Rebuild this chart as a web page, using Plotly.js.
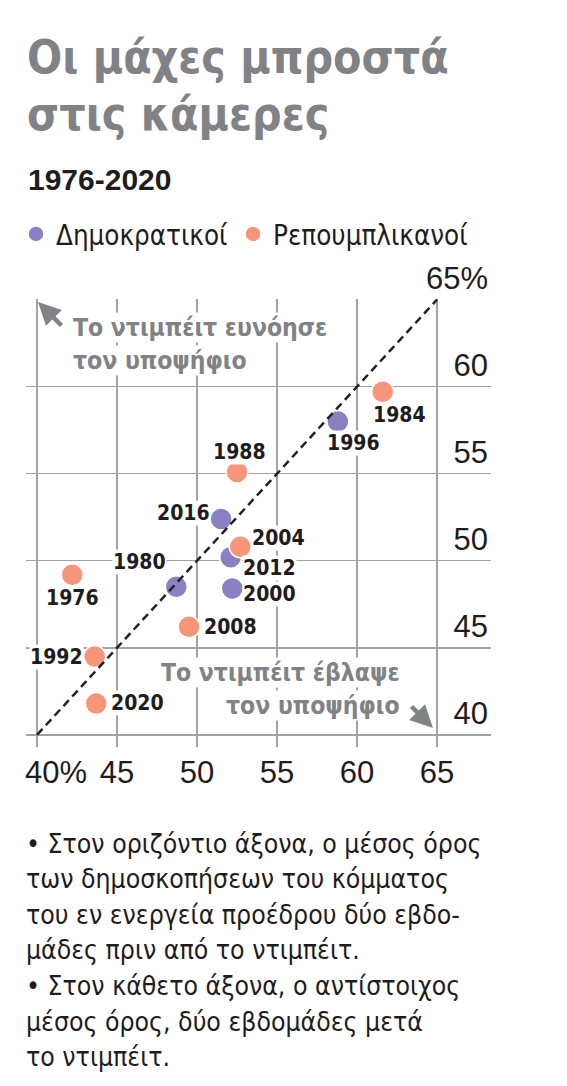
<!DOCTYPE html>
<html><head><meta charset="utf-8">
<script src="https://cdn.plot.ly/plotly-3.0.1.min.js"></script>
<style>html,body{margin:0;padding:0;background:#fff}</style>
</head><body><div id="chart" style="width:567px;height:1086px"></div>
<script>
// ---- data ----
const demYears  = ['1980', '1996', '2000', '2012', '2016'];
const demBefore = [48.7, 58.8, 52.2, 52.1, 51.5];
const demAfter  = [48.5, 58.0, 48.4, 50.2, 52.4];
const repYears  = ['1976', '1984', '1988', '1992', '2004', '2008', '2020'];
const repBefore = [42.2, 61.6, 52.5, 43.6, 52.7, 49.5, 43.7];
const repAfter  = [49.2, 59.7, 55.1, 44.5, 50.8, 46.2, 41.8];
const xTickVals = [40, 45, 50, 55, 60, 65];
const xTickText = ['', '45', '50', '55', '60', '65'];
const xFirstTickVal = [40];
const xFirstTickText = ['40%'];
const yTickVals = [40, 45, 50, 55, 60, 65];
const yTickText = ['40', '45', '50', '55', '60', '65%'];
const parityX = [40, 65];
const parityY = [40, 65];
const seriesNames = ['Δημοκρατικοί', 'Ρεπουμπλικανοί'];

// ---- styles ----
const NARROW = '"Liberation Sans Narrow", "DejaVu Sans Condensed", "Arial Narrow", sans-serif';
const LABELF = '"DejaVu Sans Condensed", "DejaVu Sans", sans-serif';
const ARIAL = '"Liberation Sans", Arial, sans-serif';
const GRAY = '#808285';
const INK = '#1f1c1d';
const DEM = '#8A80C2';
const REP = '#F5957A';

// label placement relative to marker centre (pixels): [dx, dy, xanchor]
const labelPlace = {
  '1976': [0, 23, 'center'], '1980': [-9, -25, 'right'], '1984': [17, 23, 'center'],
  '1988': [2, -20, 'center'], '1992': [-11, 1, 'right'], '1996': [16, 22, 'center'],
  '2000': [10, 5, 'left'], '2004': [11, -9, 'left'], '2008': [14, 0, 'left'],
  '2012': [11, 11, 'left'], '2016': [-10, -6, 'right'], '2020': [14, 0, 'left']
};

const W = 567, H = 1086, ML = 26, MR = 76, MT = 299, MB = 339;
const PW = W - ML - MR, PH = H - MT - MB;
const px2x = p => (p - ML) / PW;
const py2y = p => (H - MB - p) / PH;
const XR = [39.31, 68.37];

const traces = [
  {x: parityX, y: parityY, xaxis: 'x2', yaxis: 'y', mode: 'lines', showlegend: false, hoverinfo: 'skip',
   line: {color: '#222', width: 2.5, dash: '8px,5px'}},
  {x: demBefore, y: demAfter, mode: 'markers', name: seriesNames[0],
   marker: {color: DEM, size: 22, line: {color: '#fff', width: 1.5}}},
  {x: repBefore, y: repAfter, mode: 'markers', name: seriesNames[1],
   marker: {color: REP, size: 22, line: {color: '#fff', width: 1.5}}}
];

const ann = [];
function addLabels(years, xs, ys) {
  years.forEach((yr, i) => {
    const p = labelPlace[yr];
    ann.push({x: xs[i], y: ys[i], xref: 'x', yref: 'y', text: yr, showarrow: false,
      xshift: p[0], yshift: -p[1], xanchor: p[2], yanchor: 'middle',
      bgcolor: '#fff', borderpad: 0,
      font: {family: LABELF, size: 21, color: INK, weight: 'bold'}});
  });
}
addLabels(demYears, demBefore, demAfter);
addLabels(repYears, repBefore, repAfter);

function txt(text, px, pyc, opts) {
  return Object.assign({xref: 'paper', yref: 'paper', x: px2x(px), y: py2y(pyc),
    text: text, showarrow: false, xanchor: 'left', yanchor: 'middle'}, opts);
}
// titles
ann.push(txt('Οι μάχες μπροστά', 25, 57, {font: {family: NARROW, size: 46, color: GRAY, weight: 'bold'}}));
ann.push(txt('στις κάμερες', 25, 114, {font: {family: NARROW, size: 46, color: GRAY, weight: 'bold'}}));
ann.push(txt('1976-2020', 26, 179, {font: {family: ARIAL, size: 30, color: INK, weight: 'bold'}}));
// in-chart notes
const noteFont = {family: NARROW, size: 24.5, color: GRAY, weight: 'bold'};
ann.push(txt('Το ντιμπέιτ ευνόησε', 72, 327, {font: noteFont, bgcolor: '#fff', borderpad: 0}));
ann.push(txt('τον υποψήφιο', 72, 360, {font: noteFont, bgcolor: '#fff', borderpad: 0}));
ann.push(txt('Το ντιμπέιτ έβλαψε', 401, 672, {font: noteFont, xanchor: 'right', bgcolor: '#fff', borderpad: 0}));
ann.push(txt('τον υποψήφιο', 401, 705, {font: noteFont, xanchor: 'right', bgcolor: '#fff', borderpad: 0}));
// arrows
ann.push({xref: 'paper', yref: 'paper', x: px2x(38), y: py2y(302), ax: 25, ay: 25, text: '',
  showarrow: true, arrowhead: 2, arrowsize: 1, arrowwidth: 4.5, arrowcolor: GRAY, standoff: 0});
ann.push({xref: 'paper', yref: 'paper', x: px2x(433), y: py2y(728), ax: -23, ay: -23, text: '',
  showarrow: true, arrowhead: 2, arrowsize: 1, arrowwidth: 4.5, arrowcolor: GRAY, standoff: 0});
// footnote
const foot = [
  '• Στον οριζόντιο άξονα, ο μέσος όρος',
  'των δημοσκοπήσεων του κόμματος',
  'του εν ενεργεία προέδρου δύο εβδο-',
  'μάδες πριν από το ντιμπέιτ.',
  '• Στον κάθετο άξονα, ο αντίστοιχος',
  'μέσος όρος, δύο εβδομάδες μετά',
  'το ντιμπέιτ.'
];
foot.forEach((line, i) => {
  ann.push(txt(line, 24, 843 + i * 35.6, {font: {family: NARROW, size: 26.4, color: INK}}));
});

const tickFont = {family: ARIAL, size: 31, color: INK};
const layout = {
  width: W, height: H,
  margin: {l: ML, r: MR, t: MT, b: MB, pad: 0},
  paper_bgcolor: '#fff', plot_bgcolor: '#fff',
  font: {family: NARROW, color: INK},
  showlegend: true,
  legend: {orientation: 'h', xref: 'container', yref: 'container',
    x: 16 / W, xanchor: 'left', y: 1 - 234 / H, yanchor: 'middle',
    font: {family: NARROW, size: 27.5, color: INK}, itemsizing: 'trace',
    bgcolor: 'rgba(0,0,0,0)', borderwidth: 0},
  xaxis: {range: XR, tickvals: xTickVals, ticktext: xTickText,
    showgrid: true, gridcolor: '#a2a2a2', gridwidth: 1.5, zeroline: false, showline: false,
    ticks: '', ticklabelstandoff: 4, tickfont: tickFont, fixedrange: true},
  xaxis2: {range: XR, overlaying: 'x', anchor: 'y', side: 'bottom',
    tickvals: xFirstTickVal, ticktext: xFirstTickText,
    showgrid: false, zeroline: false, showline: false, ticks: '',
    ticklabelposition: 'outside right', ticklabelshift: -12, ticklabelstandoff: 4,
    tickfont: tickFont, fixedrange: true},
  yaxis: {range: [39.3, 65.03], tickvals: yTickVals, ticktext: yTickText, side: 'right',
    ticklabelposition: 'inside top', ticklabeloverflow: 'allow',
    showgrid: true, gridcolor: '#a2a2a2', gridwidth: 1.5, zeroline: false, showline: false,
    ticks: '', tickfont: tickFont, fixedrange: true},
  annotations: ann
};

Plotly.newPlot('chart', traces, layout, {staticPlot: true, displayModeBar: false});
</script>
</body></html>
